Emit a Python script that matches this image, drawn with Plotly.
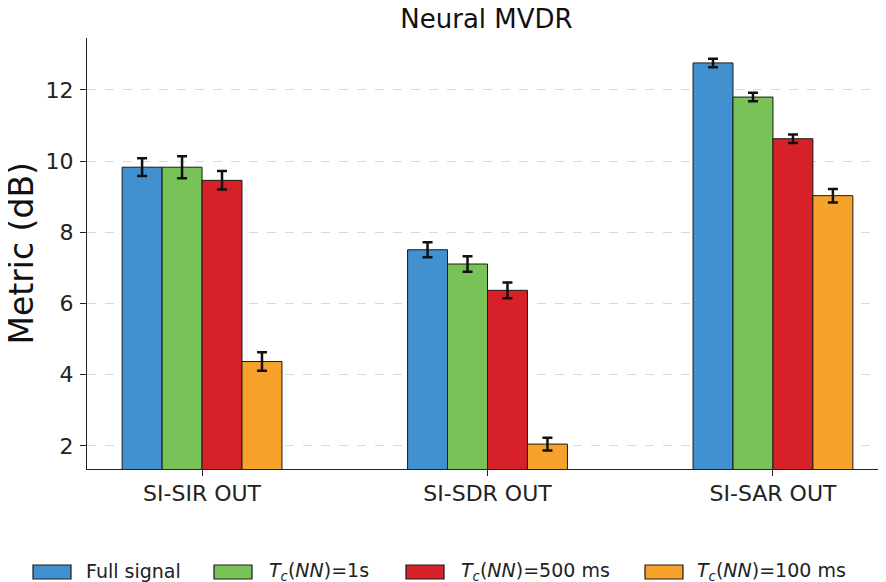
import plotly.graph_objects as go

categories = ["SI-SIR OUT", "SI-SDR OUT", "SI-SAR OUT"]
series_names = ["Full signal", "T_c(NN)=1s", "T_c(NN)=500 ms", "T_c(NN)=100 ms"]
series_labels = [
    "Full signal",
    "<i>T</i><sub><i>c</i></sub>(<i>NN</i>)=1s",
    "<i>T</i><sub><i>c</i></sub>(<i>NN</i>)=500 ms",
    "<i>T</i><sub><i>c</i></sub>(<i>NN</i>)=100 ms",
]
full_signal = [9.83, 7.51, 12.76]
tc_1s = [9.83, 7.11, 11.80]
tc_500ms = [9.46, 6.37, 10.63]
tc_100ms = [4.37, 2.05, 9.03]
err_full = [0.25, 0.21, 0.12]
err_1s = [0.31, 0.22, 0.12]
err_500ms = [0.26, 0.22, 0.12]
err_100ms = [0.26, 0.18, 0.19]
y_ticks = [2, 4, 6, 8, 10, 12]

values = [full_signal, tc_1s, tc_500ms, tc_100ms]
errors = [err_full, err_1s, err_500ms, err_100ms]
colors = ["#4191D0", "#79C257", "#D62128", "#F7A22A"]

FONT = "DejaVu Sans"
OFF = 8  # page body margin offset
W, H = 886 - OFF, 582 - OFF
L, R, T, B = 87 - OFF, 0, 38 - OFF, 113
pw = W - L - R
ph = H - T - B

fig = go.Figure()
for name, vals, errs, col in zip(series_names, values, errors, colors):
    fig.add_trace(go.Bar(
        x=categories, y=vals, name=name,
        marker=dict(color=col, line=dict(color="#1a1a1a", width=1)),
        error_y=dict(type="data", array=errs, visible=True,
                     color="#111111", thickness=2.5, width=5),
        showlegend=False,
    ))

# window pixel -> paper coordinates
def px_x(p):
    return (p - OFF - L) / pw

def px_y(p):
    return (H - B - (p - OFF)) / ph

patch_x = [33, 214, 406, 645]
text_x = [84, 267, 459, 695]
shapes = []
annotations = []
for px0, tx, col, lab in zip(patch_x, text_x, colors, series_labels):
    shapes.append(dict(type="rect", xref="paper", yref="paper",
                       x0=px_x(px0), x1=px_x(px0 + 38),
                       y0=px_y(579), y1=px_y(565),
                       fillcolor=col, line=dict(color="#1a1a1a", width=1.2)))
    annotations.append(dict(xref="paper", yref="paper", x=px_x(tx), y=px_y(571),
                            xanchor="left", yanchor="middle", showarrow=False,
                            text=lab, font=dict(family=FONT, size=19, color="#222222")))

annotations.append(dict(xref="paper", yref="paper", x=px_x(21), y=0.5,
                        xanchor="center", yanchor="middle", showarrow=False,
                        textangle=-90, text="Metric (dB)",
                        font=dict(family=FONT, size=33, color="#111111")))

fig.update_layout(
    width=W, height=H,
    margin=dict(l=L, r=R, t=T, b=B, autoexpand=False),
    paper_bgcolor="white", plot_bgcolor="white",
    barmode="group", bargap=0.44, bargroupgap=0,
    title=dict(text="Neural MVDR", x=0.5, xref="paper", xanchor="center",
               y=1 - (19 - OFF) / H, yanchor="middle",
               font=dict(family=FONT, size=26, color="#111111")),
    shapes=shapes, annotations=annotations,
    font=dict(family=FONT, color="#222222"),
)
fig.update_xaxes(
    type="category", range=[-0.403, 2.396],
    showline=True, linecolor="#222222", linewidth=1.3,
    ticks="outside", ticklen=6, tickcolor="#222222", tickwidth=1.2,
    tickfont=dict(family=FONT, size=22, color="#222222"),
    showgrid=False, zeroline=False, ticklabelstandoff=-2,
)
fig.update_yaxes(
    range=[1.35, 13.46], tickvals=y_ticks,
    showline=True, linecolor="#222222", linewidth=1.3,
    ticks="outside", ticklen=6, tickcolor="#222222", tickwidth=1.2,
    tickfont=dict(family=FONT, size=22, color="#222222"),
    showgrid=True, gridcolor="#d9d9d9", griddash="dash", gridwidth=1,
    zeroline=False, ticklabelstandoff=2,
)

fig.write_html("out.html")
